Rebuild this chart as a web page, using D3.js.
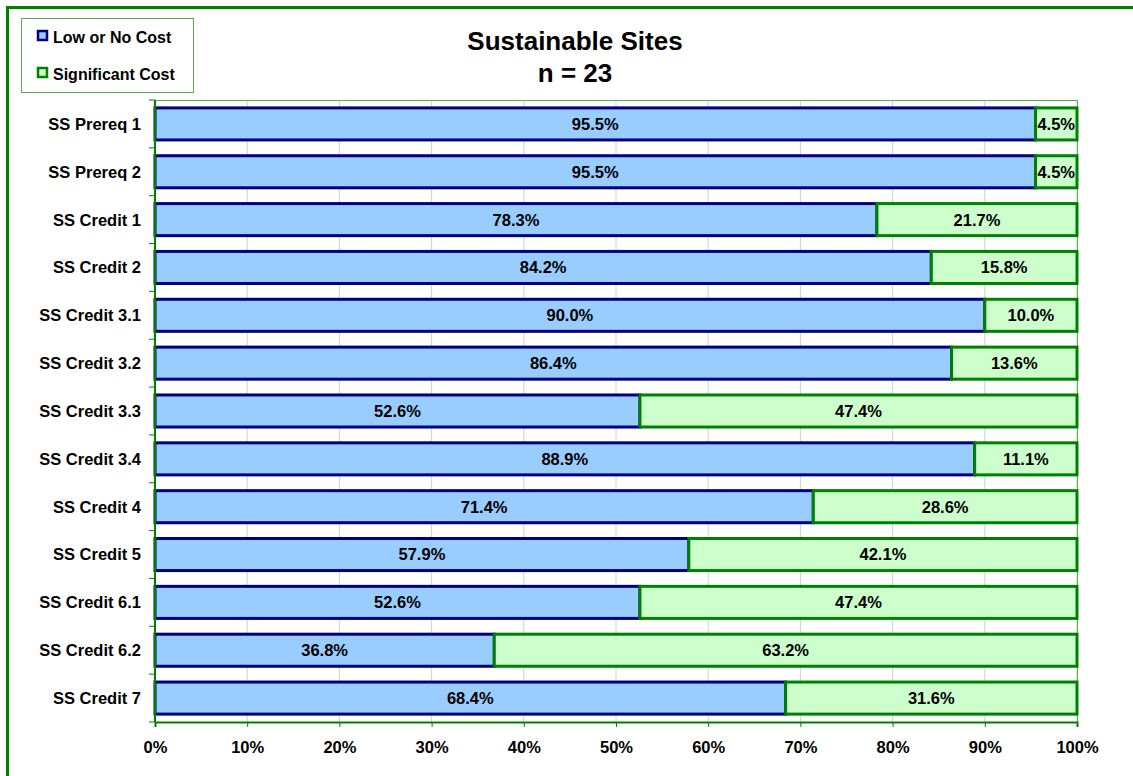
<!DOCTYPE html>
<html><head><meta charset="utf-8">
<script src="https://cdn.jsdelivr.net/npm/d3@7"></script>
<style>body{margin:0;background:#fff}svg{display:block;font-family:Arial,"Liberation Sans",sans-serif;font-weight:bold}</style>
</head><body><svg id="c" width="1133" height="776"></svg>
<script>
const categories = ["SS Prereq 1","SS Prereq 2","SS Credit 1","SS Credit 2","SS Credit 3.1","SS Credit 3.2","SS Credit 3.3","SS Credit 3.4","SS Credit 4","SS Credit 5","SS Credit 6.1","SS Credit 6.2","SS Credit 7"];
const lowCost = [95.5,95.5,78.3,84.2,90.0,86.4,52.6,88.9,71.4,57.9,52.6,36.8,68.4];
const sigCost = [4.5,4.5,21.7,15.8,10.0,13.6,47.4,11.1,28.6,42.1,47.4,63.2,31.6];
const seriesNames = ["Low or No Cost","Significant Cost"];
const xTicks = [0,10,20,30,40,50,60,70,80,90,100];
const titleLines = ["Sustainable Sites","n = 23"];

const svg = d3.select("#c");
const L = 155, R = 1077, T = 100, B = 722;
const x = d3.scaleLinear().domain([0,100]).range([L,R]);
const y = d3.scaleBand().domain(categories).range([T,B]).paddingInner(0.33).paddingOuter(0.165);

// outer border
svg.append("rect").attr("x",7.5).attr("y",7.5).attr("width",1200).attr("height",900)
  .attr("fill","none").attr("stroke","#008000").attr("stroke-width",3);

// gridlines
svg.append("g").selectAll("line").data(xTicks.slice(1)).join("line")
  .attr("x1",d=>x(d)).attr("x2",d=>x(d)).attr("y1",T).attr("y2",B)
  .attr("stroke","#b8e0b8").attr("stroke-width",1);
// plot top/right border
svg.append("path").attr("d",`M${L},${T+0.5}H${R+0.5}V${B}`).attr("fill","none").attr("stroke","#5aaa5a").attr("stroke-width",1);

const rows = categories.map((c,i)=>({c, low:lowCost[i], sig:sigCost[i]}));
const g = svg.append("g");
g.selectAll("rect.low").data(rows).join("rect").attr("class","low")
  .attr("x",x(0)).attr("y",d=>y(d.c)).attr("width",d=>x(d.low)-x(0)).attr("height",y.bandwidth())
  .attr("fill","#99ccff").attr("stroke","#000080").attr("stroke-width",3);
g.selectAll("rect.sig").data(rows).join("rect").attr("class","sig")
  .attr("x",d=>x(d.low)).attr("y",d=>y(d.c)).attr("width",d=>x(d.low+d.sig)-x(d.low)).attr("height",y.bandwidth())
  .attr("fill","#ccffcc").attr("stroke","#008000").attr("stroke-width",3);

g.selectAll("text.lowl").data(rows).join("text").attr("class","lowl")
  .attr("x",d=>(x(0)+x(d.low))/2).attr("y",d=>y(d.c)+y.bandwidth()/2).attr("dy","0.36em")
  .attr("text-anchor","middle").attr("font-size",16.5).text(d=>d.low.toFixed(1)+"%");
g.selectAll("text.sigl").data(rows).join("text").attr("class","sigl")
  .attr("x",d=>(x(d.low)+x(d.low+d.sig))/2).attr("y",d=>y(d.c)+y.bandwidth()/2).attr("dy","0.36em")
  .attr("text-anchor","middle").attr("font-size",16.5).text(d=>d.sig.toFixed(1)+"%");

// left axis
const step = (B-T)/categories.length;
const ly = svg.append("g");
ly.append("line").attr("x1",L).attr("x2",L).attr("y1",T).attr("y2",B).attr("stroke","#008000").attr("stroke-width",2);
ly.selectAll("line.t").data(d3.range(categories.length+1)).join("line").attr("class","t")
  .attr("x1",L-6).attr("x2",L).attr("y1",i=>T+i*step).attr("y2",i=>T+i*step).attr("stroke","#008000").attr("stroke-width",1);
ly.selectAll("text").data(categories).join("text")
  .attr("x",141).attr("y",d=>y(d)+y.bandwidth()/2).attr("dy","0.36em").attr("text-anchor","end")
  .attr("font-size",16.5).text(d=>d);

// bottom axis
const bx = svg.append("g").attr("transform",`translate(0,${B})`)
  .call(d3.axisBottom(x).tickValues(xTicks).tickFormat(d=>d+"%").tickSize(5).tickPadding(14));
bx.select(".domain").attr("stroke","#008000").attr("stroke-width",2);
bx.selectAll(".tick line").attr("stroke","#008000").attr("stroke-width",1);
bx.selectAll(".tick text").attr("font-size",16.5).attr("font-weight","bold").attr("font-family","Arial, 'Liberation Sans', sans-serif").attr("fill","#000");

// title
svg.append("g").selectAll("text").data(titleLines).join("text")
  .attr("x",575).attr("y",(d,i)=>50+i*32).attr("text-anchor","middle").attr("font-size",26).text(d=>d);

// legend
const lg = svg.append("g");
lg.append("rect").attr("x",21.5).attr("y",18.5).attr("width",172).attr("height",74)
  .attr("fill","#fff").attr("stroke","#5aaa5a").attr("stroke-width",1);
const legColors = [["#99ccff","#000080"],["#ccffcc","#008000"]];
lg.selectAll("rect.m").data(seriesNames).join("rect").attr("class","m")
  .attr("x",38).attr("y",(d,i)=>31+i*37).attr("width",9).attr("height",9)
  .attr("fill",(d,i)=>legColors[i][0]).attr("stroke",(d,i)=>legColors[i][1]).attr("stroke-width",2.5);
lg.selectAll("text").data(seriesNames).join("text")
  .attr("x",53).attr("y",(d,i)=>43+i*37).attr("font-size",16).text(d=>d);
</script></body></html>
